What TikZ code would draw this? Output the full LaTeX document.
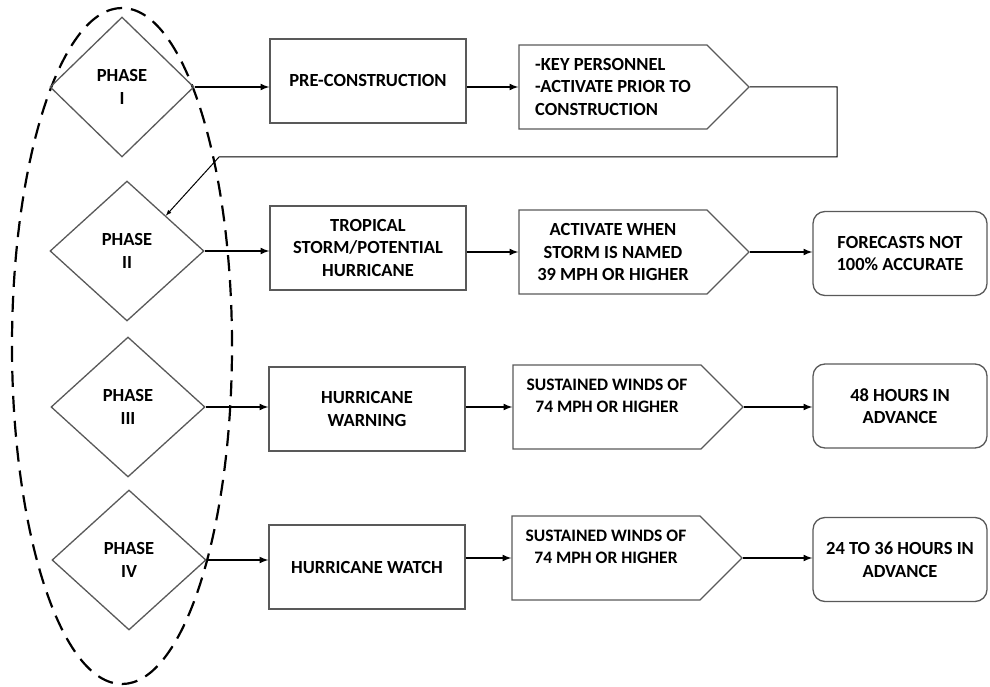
\documentclass[tikz,border=0pt]{standalone}
\usepackage{fontspec}
\setmainfont{Carlito}
\usetikzlibrary{arrows,shapes.geometric,shapes.symbols}
\definecolor{shapegray}{HTML}{595959}

\tikzset{
  every node/.style={font=\bfseries\fontsize{18.5}{22.5}\selectfont, align=center},
  phasebox/.style={diamond, draw=shapegray, line width=1.3pt, minimum width=154pt, minimum height=140pt, inner sep=0pt},
  stagebox/.style={rectangle, draw=shapegray, line width=1.3pt, minimum width=196pt, minimum height=84pt},
  triggerbox/.style={signal, signal to=east, signal from=nowhere, draw=shapegray, line width=1.3pt, minimum width=230pt, minimum height=84pt},
  windbox/.style={triggerbox, font=\fontsize{17.5}{22.5}\selectfont\bfseries},
  notebox/.style={rectangle, rounded corners=12pt, draw=shapegray, line width=1.3pt, minimum width=174pt, minimum height=84pt},
  flow/.style={-latex, line width=2pt},
  feedback/.style={-latex, line width=1pt}
}

\begin{document}
\begin{tikzpicture}[x=1pt,y=-1pt]
\useasboundingbox (0,0) rectangle (990,687);
\draw[line width=2.2pt, dash pattern=on 16pt off 9pt] (122,346) ellipse (110pt and 338pt);

% phases
\node[phasebox, minimum width=144pt] (phase1) at (122,87) {PHASE\\I};
\node[phasebox] (phase2) at (127,251) {PHASE\\II};
\node[phasebox] (phase3) at (128,407) {PHASE\\III};
\node[phasebox] (phase4) at (129,560) {PHASE\\IV};

\node[stagebox] (pre) at (368,81) {PRE-CONSTRUCTION};
\node[stagebox] (storm) at (368,248) {TROPICAL\\STORM/POTENTIAL\\HURRICANE};
\node[stagebox] (warning) at (367,409) {HURRICANE\\WARNING};
\node[stagebox] (watch) at (367,567) {HURRICANE WATCH};

\node[triggerbox, align=left] (act1) at (613,87) {-KEY PERSONNEL\\-ACTIVATE PRIOR TO\\CONSTRUCTION};
\node[triggerbox] (act2) at (613,252) {ACTIVATE WHEN\\STORM IS NAMED\\39 MPH OR HIGHER};
\node[windbox] (act3) at (607,407) {SUSTAINED WINDS OF\\74 MPH OR HIGHER\\~};
\node[windbox] (act4) at (606,558) {SUSTAINED WINDS OF\\74 MPH OR HIGHER\\~};

\node[notebox] (note2) at (900,253.5) {FORECASTS NOT\\100\% ACCURATE};
\node[notebox] (note3) at (900,406) {48 HOURS IN\\ADVANCE};
\node[notebox] (note4) at (900,559.5) {24 TO 36 HOURS IN\\ADVANCE};

% arrows
\foreach \p/\s in {phase1/pre, phase2/storm, phase3/warning, phase4/watch}
  \draw[flow] (\p.east) -- (\p.east -| \s.west);
\foreach \s/\t in {pre/act1, storm/act2, warning/act3, watch/act4}
  \draw[flow] (\s.east |- \t.west) -- (\t.west);
\foreach \t/\n in {act2/note2, act3/note3, act4/note4}
  \draw[flow] (\t.east) -- (\t.east -| \n.west);

\coordinate (turn1) at (837,157);
\coordinate (turn2) at (219,157);
\draw[feedback] (act1.east) -| (turn1) -- (turn2) -- (phase2.north east);
\end{tikzpicture}
\end{document}
